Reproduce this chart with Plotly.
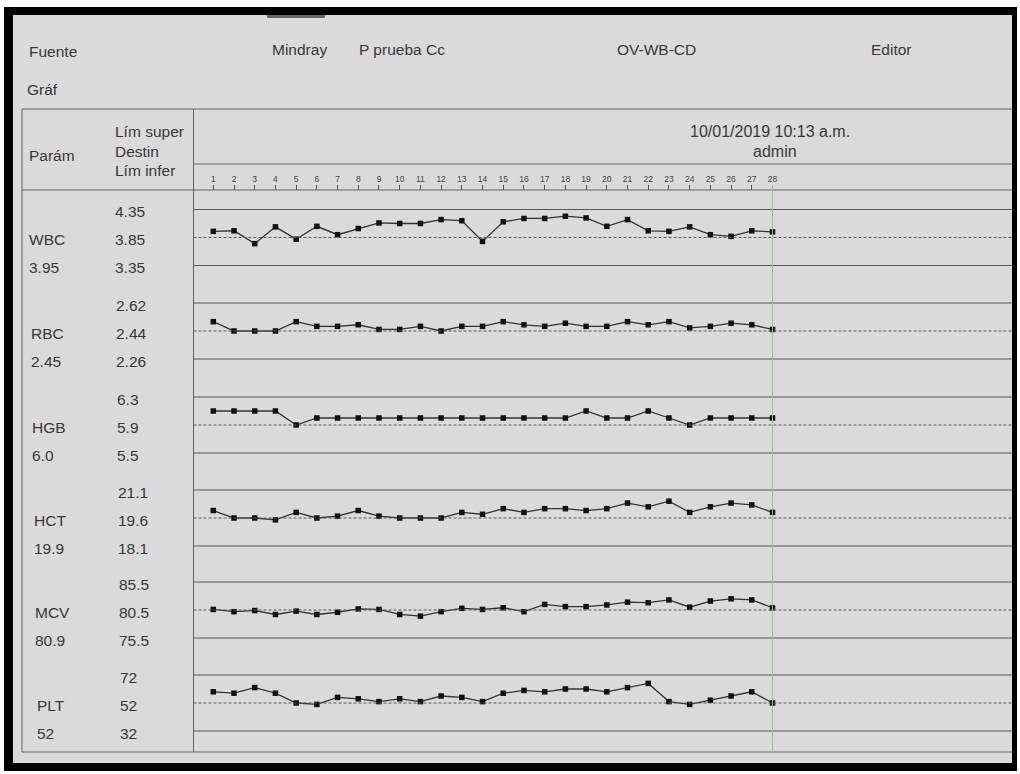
import plotly.graph_objects as go

W, H = 1020, 774

# ---------------- data ----------------
runs = list(range(1, 29))
params = ["WBC", "RBC", "HGB", "HCT", "MCV", "PLT"]
upper = [4.35, 2.62, 6.3, 21.1, 85.5, 72]
target = [3.85, 2.44, 5.9, 19.6, 80.5, 52]
lower = [3.35, 2.26, 5.5, 18.1, 75.5, 32]
decimals = [2, 2, 1, 1, 1, 0]
current = ["3.95", "2.45", "6.0", "19.9", "80.9", "52"]

wbc = [3.96, 3.97, 3.74, 4.04, 3.82, 4.05, 3.90, 4.01, 4.11, 4.10, 4.10, 4.17, 4.15, 3.78,
       4.13, 4.19, 4.19, 4.23, 4.20, 4.05, 4.17, 3.97, 3.96, 4.04, 3.90, 3.87, 3.97, 3.95]
rbc = [2.50, 2.44, 2.44, 2.44, 2.50, 2.47, 2.47, 2.48, 2.45, 2.45, 2.47, 2.44, 2.47, 2.47,
       2.50, 2.48, 2.47, 2.49, 2.47, 2.47, 2.50, 2.48, 2.50, 2.46, 2.47, 2.49, 2.48, 2.45]
hgb = [6.1, 6.1, 6.1, 6.1, 5.9, 6.0, 6.0, 6.0, 6.0, 6.0, 6.0, 6.0, 6.0, 6.0,
       6.0, 6.0, 6.0, 6.0, 6.1, 6.0, 6.0, 6.1, 6.0, 5.9, 6.0, 6.0, 6.0, 6.0]
hct = [20.0, 19.6, 19.6, 19.5, 19.9, 19.6, 19.7, 20.0, 19.7, 19.6, 19.6, 19.6, 19.9, 19.8,
       20.1, 19.9, 20.1, 20.1, 20.0, 20.1, 20.4, 20.2, 20.5, 19.9, 20.2, 20.4, 20.3, 19.9]
mcv = [80.6, 80.2, 80.4, 79.7, 80.3, 79.7, 80.1, 80.7, 80.6, 79.7, 79.4, 80.2, 80.8, 80.6,
       80.9, 80.2, 81.5, 81.1, 81.1, 81.4, 81.9, 81.8, 82.3, 81.0, 82.1, 82.5, 82.3, 80.9]
plt_ = [60, 59, 63, 59, 52, 51, 56, 55, 53, 55, 53, 57, 56, 53,
        59, 61, 60, 62, 62, 60, 63, 66, 53, 51, 54, 57, 60, 52]
series = [wbc, rbc, hgb, hct, mcv, plt_]

header_left = ["Fuente", "Gráf"]
header_items = ["Mindray", "P prueba Cc", "OV-WB-CD", "Editor"]
col_heads = ["Lím super", "Destin", "Lím infer"]
date_text = "10/01/2019 10:13 a.m."
user_text = "admin"

# ---------------- layout helpers ----------------
def X(px):
    return px / W

def Y(py):
    return 1 - py / H

FONT = "Liberation Sans, Arial, sans-serif"
TXT = "#383838"
LINE = "#646464"

panel_mid = [237.5, 331, 425, 518, 610, 703]   # pixel row of target line
gap = 28     # pixels between target and limit lines
half = 45    # half height of each panel domain

x_left_px, x_right_px = 194, 1013
p1_px, p28_px = 213.3, 772.5
ppu = (p28_px - p1_px) / 27
xr = [1 - (p1_px - x_left_px) / ppu, 28 + (x_right_px - p28_px) / ppu]

fig = go.Figure()
layout_axes = {}
shapes = []
annotations = []

def txt(px, py, s, size=15.5, xanchor="left", color=TXT):
    annotations.append(dict(x=X(px), y=Y(py), xref="paper", yref="paper", text=s,
                            showarrow=False, xanchor=xanchor, yanchor="middle",
                            font=dict(family=FONT, size=size, color=color)))

def hline(py, x0, x1, color=LINE, width=1, dash="solid"):
    shapes.append(dict(type="line", xref="paper", yref="paper", x0=X(x0), x1=X(x1),
                       y0=Y(py), y1=Y(py), line=dict(color=color, width=width, dash=dash)))

def vline(px, y0, y1, color=LINE, width=1):
    shapes.append(dict(type="line", xref="paper", yref="paper", x0=X(px), x1=X(px),
                       y0=Y(y0), y1=Y(y1), line=dict(color=color, width=width)))

# frame and background
shapes.append(dict(type="rect", xref="paper", yref="paper", x0=X(4), x1=X(1017), y0=Y(771), y1=Y(7),
                   fillcolor="#000000", line=dict(width=0), layer="below"))
shapes.append(dict(type="rect", xref="paper", yref="paper", x0=X(13), x1=X(1012), y0=Y(763), y1=Y(15),
                   fillcolor="#dadada", line=dict(width=0), layer="below"))
shapes.append(dict(type="rect", xref="paper", yref="paper", x0=X(267), x1=X(325), y0=Y(18), y1=Y(15),
                   fillcolor="#666666", line=dict(width=0), layer="below"))

# table grid
hline(109, 22, 1012)
hline(164, 193.5, 1012)
hline(190, 22, 1012)
hline(752, 22, 1012)
vline(22, 109, 752)
vline(193.5, 109, 752)

# header texts
txt(27, 51, header_left[0])
txt(25, 89, header_left[1])
for s, px in zip(header_items, [270, 357, 615, 869]):
    txt(px, 50, s)
txt(27, 155, "Parám")
for s, py in zip(col_heads, [131, 151, 171]):
    txt(113, py, s)
txt(770, 131, date_text, size=16, xanchor="center")
txt(775, 151, user_text, size=16, xanchor="center")

# panels
for k, (name, s) in enumerate(zip(params, series)):
    T = panel_mid[k]
    d = upper[k] - target[k]
    yname = "y" if k == 0 else f"y{k+1}"
    akey = "yaxis" if k == 0 else f"yaxis{k+1}"
    rng = [target[k] - d * half / gap, target[k] + d * half / gap]
    layout_axes[akey] = dict(domain=[Y(T + half), Y(T - half)], range=rng, visible=False,
                             anchor="x", fixedrange=True)
    fig.add_trace(go.Scatter(
        x=runs, y=s, mode="lines+markers", xaxis="x", yaxis=yname, showlegend=False,
        line=dict(color="#333333", width=1.3),
        marker=dict(symbol="square", size=5.5, color="#111111"),
        cliponaxis=False, hoverinfo="skip"))
    for val, dash in [(upper[k], "solid"), (target[k], "3px,2px"), (lower[k], "solid")]:
        shapes.append(dict(type="line", xref="paper", yref=yname, x0=X(193.5), x1=X(1012),
                           y0=val, y1=val, line=dict(color="#595959", width=1, dash=dash)))
    fmt = "{:.%df}" % decimals[k]
    xn = 27 + 1.5 * k
    xv = 113 + 1.0 * k
    txt(xv, T - gap + 2, fmt.format(upper[k]))
    txt(xv, T + 2, fmt.format(target[k]))
    txt(xv, T + gap + 2, fmt.format(lower[k]))
    txt(xn, T + 2, name)
    txt(xn, T + gap + 2, current[k])

# current-run marker line (green)
shapes.append(dict(type="line", xref="x", yref="paper", x0=runs[-1], x1=runs[-1],
                   y0=Y(752), y1=Y(185), line=dict(color="#93c293", width=1)))

fig.update_layout(
    width=W, height=H,
    margin=dict(l=0, r=0, t=0, b=0),
    paper_bgcolor="#ffffff",
    plot_bgcolor="rgba(0,0,0,0)",
    xaxis=dict(domain=[X(x_left_px), X(x_right_px)], range=xr, anchor="free", position=Y(190),
               side="top", ticks="outside", ticklen=5, tickcolor="#555555", tickwidth=1,
               tickvals=runs, ticktext=[str(r) for r in runs],
               tickfont=dict(family=FONT, size=8.5, color="#444444"),
               showgrid=False, zeroline=False, showline=False, fixedrange=True),
    shapes=shapes,
    annotations=annotations,
    **layout_axes,
)

fig.write_html("out.html", config={"displayModeBar": False},
               post_script="document.body.style.margin='0px';")
